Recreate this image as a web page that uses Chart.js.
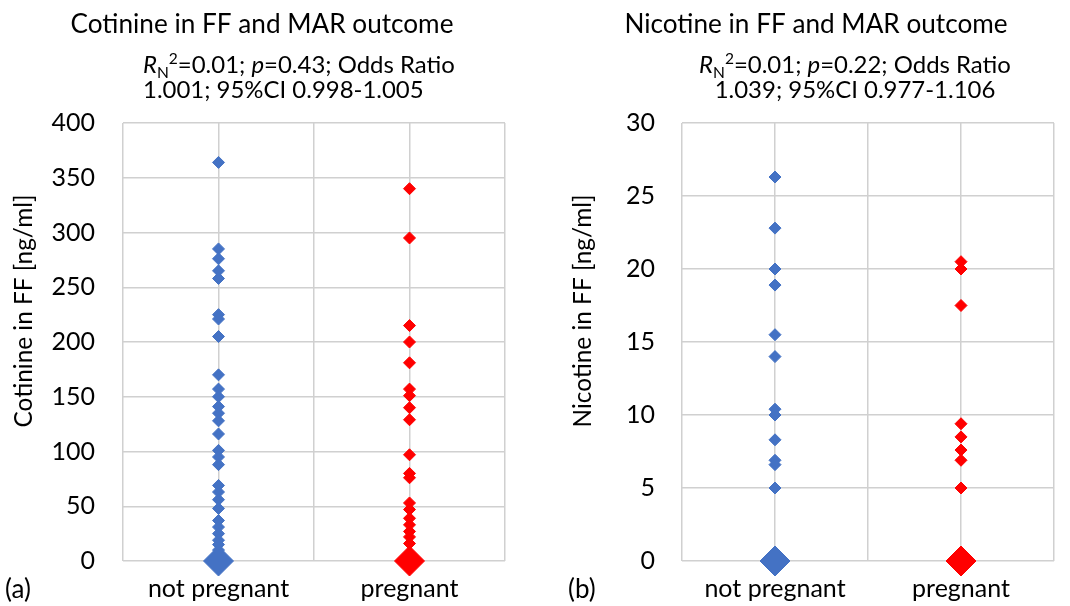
<!DOCTYPE html>
<html><head><meta charset="utf-8">
<script src="https://cdn.jsdelivr.net/npm/chart.js@4.4.1/dist/chart.umd.min.js"></script>
<style>
html,body{margin:0;padding:0;background:#fff;width:1070px;height:606px;overflow:hidden}
.w{position:absolute;top:0;width:535px;height:606px}
canvas{display:block}
</style></head><body>
<div class="w" style="left:0"><canvas id="c1" width="535" height="606"></canvas></div>
<div class="w" style="left:535px"><canvas id="c2" width="535" height="606"></canvas></div>
<script>
// ---- data ----
const categories = ['not pregnant', 'pregnant'];
const xTickValues = [0.5, 1, 1.5, 2, 2.5];
const cotinineNotPregnant = [364, 285, 276, 265, 258, 225, 221, 205, 170, 157, 150, 141, 135, 128, 116, 101, 95, 88, 69, 63, 56, 48, 37, 31, 25, 19, 15, 10, 5];
const cotininePregnant = [340, 295, 215, 200, 181, 157, 151, 140, 129, 97, 80, 76, 53, 47, 39, 33, 27, 22, 16];
const cotinineZero = [0, 0];
const nicotineNotPregnant = [26.3, 22.8, 20.0, 18.9, 15.5, 14.0, 10.4, 10.0, 8.3, 6.9, 6.6, 5.0];
const nicotinePregnant = [20.5, 20.0, 17.5, 9.4, 8.5, 7.6, 6.9, 5.0];
const nicotineZero = [0, 0];
const cotinineYTicks = [0, 50, 100, 150, 200, 250, 300, 350, 400];
const nicotineYTicks = [0, 5, 10, 15, 20, 25, 30];
const titles = ['Cotinine in FF and MAR outcome', 'Nicotine in FF and MAR outcome'];
const yTitles = ['Cotinine in FF [ng/ml]', 'Nicotine in FF [ng/ml]'];
const statsA = ['0.01', '0.43', '1.001', '0.998-1.005'];
const statsB = ['0.01', '0.22', '1.039', '0.977-1.106'];
const panelLabels = ['(a)', '(b)'];

const BLUE = '#4472C4', RED = '#FF0000', GRID = '#d0d0d0', FONT = 'Lato';

function pts(vals, x) { return vals.map(v => ({x: x, y: v})); }

function richSegs(s) {
  return [
    [{t: 'R', i: true}, {t: 'N', sub: true}, {t: '2', sup: true}, {t: '=' + s[0] + '; '}, {t: 'p', i: true}, {t: '=' + s[1] + '; Odds Ratio'}],
    [{t: s[2] + '; 95%CI ' + s[3]}]
  ];
}
function segFont(sg, size) {
  const sz = (sg.sub || sg.sup) ? size * 0.65 : size;
  return (sg.i ? 'italic ' : '') + sz + 'px ' + FONT;
}
function measureRich(ctx, segs, size) {
  let w = 0;
  segs.forEach(sg => { ctx.font = segFont(sg, size); w += ctx.measureText(sg.t).width; });
  return w;
}
function drawRich(ctx, segs, x, y, size, align) {
  const w = measureRich(ctx, segs, size);
  let cx = align === 'center' ? x - w / 2 : x;
  ctx.textAlign = 'left';
  ctx.textBaseline = 'alphabetic';
  segs.forEach(sg => {
    ctx.font = segFont(sg, size);
    let dy = sg.sub ? size * 0.2 : (sg.sup ? -size * 0.36 : 0);
    ctx.fillText(sg.t, cx, y + dy);
    cx += ctx.measureText(sg.t).width;
  });
}

// font sizes fitted to the reference widths
const mc = document.createElement('canvas').getContext('2d');
mc.font = '25px ' + FONT;
const titleSize = 25 * 383 / mc.measureText(titles[0]).width;
const yTitleSize = 25 * 233 / mc.measureText(yTitles[0]).width;
const subSize = 20 * 312 / measureRich(mc, richSegs(statsA)[0], 20);

function textPlugin(o) {
  return {
    id: 'txt' + o.idx,
    afterDraw(chart) {
      const ctx = chart.ctx;
      ctx.save();
      ctx.fillStyle = '#000';
      ctx.font = titleSize + 'px ' + FONT;
      ctx.textAlign = 'center';
      ctx.textBaseline = 'alphabetic';
      ctx.fillText(o.title, o.titleX, 33);
      const segs = richSegs(o.stats);
      drawRich(ctx, segs[0], o.subX, 73, subSize, o.subAlign);
      drawRich(ctx, segs[1], o.subX, 98, subSize, o.subAlign);
      ctx.font = '26px ' + FONT;
      ctx.textAlign = 'left';
      ctx.textBaseline = 'middle';
      ctx.fillText(o.panel, o.panelX, 590);
      // y axis title
      ctx.save();
      ctx.translate(o.yTitleX, 311);
      ctx.rotate(-Math.PI / 2);
      ctx.font = yTitleSize + 'px ' + FONT;
      ctx.textAlign = 'center';
      ctx.textBaseline = 'middle';
      ctx.fillText(o.yTitle, 0, 0);
      ctx.restore();
      ctx.restore();
    }
  };
}

function build(id, o) {
  const small = {pointStyle: 'rectRot', pointRadius: 6, pointBorderWidth: 1, showLine: false, clip: false};
  const big = {pointStyle: 'rectRot', pointRadius: 15, pointBorderWidth: 1, showLine: false, clip: false};
  const datasets = [
    Object.assign({data: pts(o.a, 1), backgroundColor: BLUE, borderColor: BLUE}, small),
    Object.assign({data: pts(o.b, 2), backgroundColor: RED, borderColor: RED}, small),
    Object.assign({data: [{x: 1, y: o.zero[0]}], backgroundColor: BLUE, borderColor: BLUE}, big),
    Object.assign({data: [{x: 2, y: o.zero[1]}], backgroundColor: RED, borderColor: RED}, big)
  ];
  return new Chart(document.getElementById(id), {
    type: 'scatter',
    data: {datasets},
    plugins: [textPlugin(o)],
    options: {
      responsive: false,
      animation: false,
      events: [],
      layout: {padding: {left: 0, right: o.rightPad, top: 123, bottom: 0}},
      plugins: {legend: {display: false}, tooltip: {enabled: false}},
      scales: {
        x: {
          type: 'linear', min: 0.5, max: 2.5,
          afterBuildTicks: s => { s.ticks = xTickValues.map(v => ({value: v})); },
          afterFit: s => { s.height = 45; },
          ticks: {
            autoSkip: false, maxRotation: 0, padding: 13, color: '#000',
            font: {family: FONT, size: 25},
            callback: v => Number.isInteger(v) ? categories[v - 1] : ''
          },
          grid: {color: GRID, lineWidth: 1.5, drawTicks: false},
          border: {display: false}
        },
        y: {
          min: o.yTicks[0], max: o.yTicks[o.yTicks.length - 1],
          afterBuildTicks: s => { s.ticks = o.yTicks.map(v => ({value: v})); },
          afterFit: s => { s.width = o.yWidth; },
          ticks: {padding: o.tickPad, color: '#000', font: {family: FONT, size: 25}},
          title: {display: false},
          grid: {color: GRID, lineWidth: 1.5, drawTicks: false},
          border: {display: false}
        }
      }
    }
  });
}

build('c1', {idx: 1, a: cotinineNotPregnant, b: cotininePregnant, zero: cotinineZero, yTicks: cotinineYTicks,
  yTitle: yTitles[0], title: titles[0], stats: statsA, panel: panelLabels[0],
  titleX: 262, subX: 143, subAlign: 'left', panelX: 5, rightPad: 30, yWidth: 123, tickPad: 28, yTitleX: 24});
build('c2', {idx: 2, a: nicotineNotPregnant, b: nicotinePregnant, zero: nicotineZero, yTicks: nicotineYTicks,
  yTitle: yTitles[1], title: titles[1], stats: statsB, panel: panelLabels[1],
  titleX: 281, subX: 320, subAlign: 'center', panelX: 33, rightPad: 6, yWidth: 147, tickPad: 27, yTitleX: 48});
</script>
</body></html>
